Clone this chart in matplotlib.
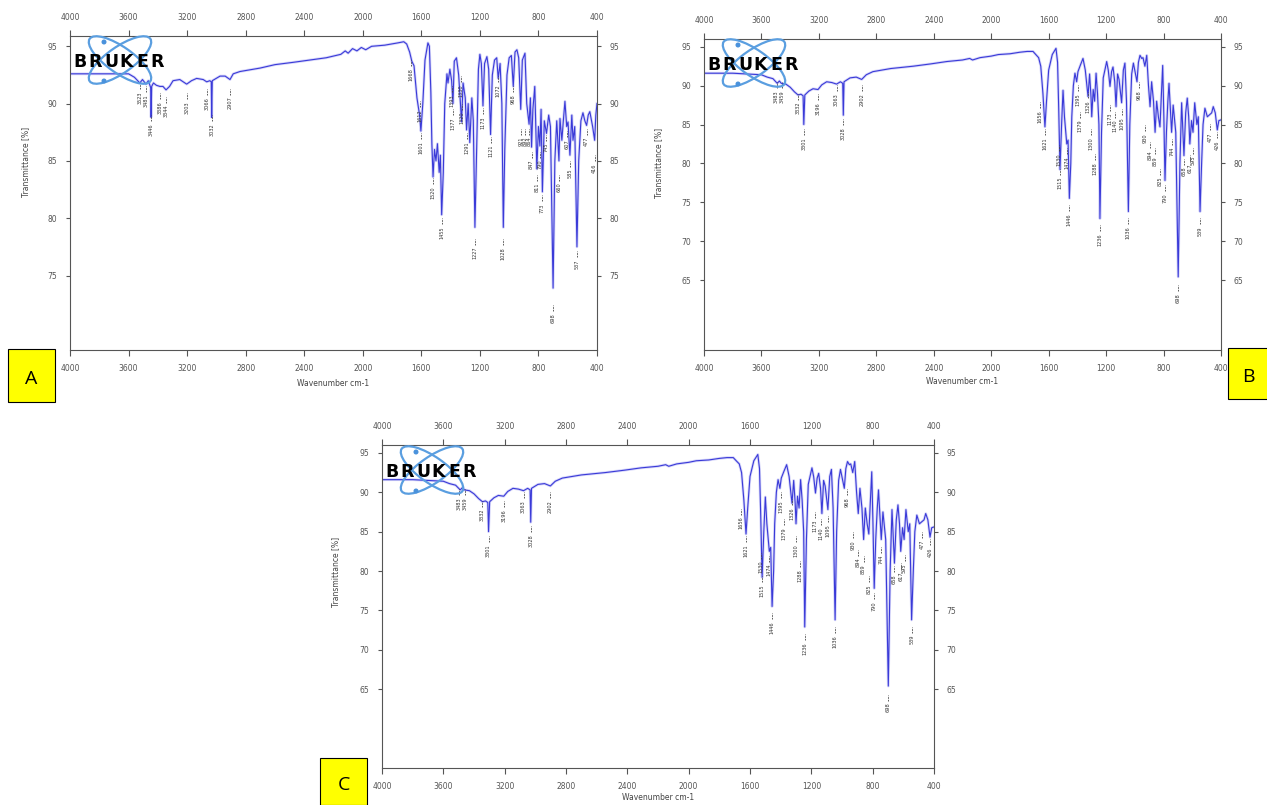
import numpy as np
import matplotlib.pyplot as plt
from matplotlib.patches import Ellipse, Rectangle, Circle

W, H = 1267, 805

# spectrum A : (wavenumber, transmittance)
spec_a = [
    (4000, 92.6), (3800, 92.6), (3600, 92.6), (3560, 92.3), (3523, 91.8), (3505, 92.1),
    (3481, 91.7), (3465, 92.0), (3449, 91.4), (3446, 88.8), (3442, 91.5), (3430, 91.8),
    (3410, 91.6), (3386, 91.5), (3365, 91.5), (3344, 91.2), (3320, 91.5), (3296, 92.0),
    (3250, 92.1), (3203, 91.7), (3170, 92.0), (3135, 92.2), (3090, 92.1), (3066, 91.9),
    (3045, 92.0), (3035, 91.9), (3032, 88.8), (3028, 92.0), (2975, 92.4), (2940, 92.4),
    (2907, 92.1), (2885, 92.6), (2839, 92.8), (2702, 93.1), (2600, 93.4), (2477, 93.6),
    (2361, 93.8), (2250, 94.0), (2150, 94.3), (2120, 94.6), (2100, 94.4), (2070, 94.8),
    (2040, 94.6), (2010, 94.9), (1980, 94.7), (1940, 95.0), (1850, 95.1), (1760, 95.3),
    (1720, 95.4), (1700, 95.2), (1680, 94.5), (1665, 93.7), (1650, 93.3), (1630, 90.5),
    (1612, 89.0), (1603, 87.6), (1590, 90.0), (1575, 93.8), (1555, 95.3), (1545, 95.0),
    (1535, 91.0), (1528, 86.5), (1520, 83.6), (1510, 86.0), (1500, 85.0), (1490, 86.5),
    (1478, 84.0), (1470, 85.5), (1461, 80.3), (1450, 84.0), (1440, 90.0), (1425, 92.6),
    (1418, 91.8), (1405, 93.0), (1393, 92.0), (1384, 90.0), (1375, 93.7), (1360, 94.0),
    (1345, 92.5), (1325, 88.4), (1315, 91.8), (1300, 90.5), (1291, 87.7), (1280, 90.0),
    (1269, 86.6), (1255, 90.5), (1245, 88.5), (1234, 79.2), (1222, 86.0), (1210, 93.0),
    (1200, 94.3), (1190, 93.5), (1179, 89.8), (1168, 93.5), (1152, 94.1), (1140, 93.0),
    (1127, 87.3), (1115, 92.5), (1100, 93.8), (1085, 94.0), (1075, 92.2), (1062, 93.5),
    (1050, 90.0), (1040, 79.2), (1030, 86.0), (1015, 92.5), (1000, 94.0), (985, 94.2),
    (972, 91.5), (960, 94.5), (947, 94.7), (935, 94.0), (921, 89.5), (910, 93.8),
    (892, 94.4), (880, 90.0), (864, 88.2), (855, 90.5), (847, 86.2), (838, 89.5),
    (825, 91.5), (811, 84.3), (800, 88.0), (790, 86.3), (782, 89.5), (773, 82.3),
    (760, 88.5), (745, 87.4), (730, 89.0), (718, 88.0), (700, 73.9), (688, 85.0),
    (675, 88.5), (660, 85.0), (653, 88.7), (640, 86.8), (630, 88.5), (619, 90.2),
    (607, 88.0), (598, 88.4), (585, 85.5), (572, 89.0), (564, 86.8), (552, 88.0),
    (537, 77.5), (525, 85.0), (510, 88.5), (496, 89.2), (483, 88.5), (471, 88.1),
    (460, 89.0), (449, 89.3), (430, 88.0), (416, 86.8), (408, 89.0), (400, 90.0),
]

# spectrum B
spec_b = [
    (4000, 91.6), (3800, 91.6), (3600, 91.4), (3560, 91.1), (3520, 90.9), (3490, 90.3),
    (3475, 90.6), (3462, 90.3), (3430, 90.2), (3400, 89.8), (3370, 89.2), (3345, 88.8),
    (3325, 88.9), (3310, 88.7), (3305, 85.0), (3298, 88.8), (3270, 89.3), (3241, 89.6),
    (3206, 89.5), (3180, 90.1), (3146, 90.5), (3110, 90.4), (3077, 90.2), (3050, 90.5),
    (3034, 90.3), (3030, 86.2), (3025, 90.5), (2983, 91.0), (2940, 91.1), (2902, 90.8),
    (2870, 91.4), (2824, 91.8), (2700, 92.2), (2544, 92.5), (2420, 92.8), (2310, 93.1),
    (2200, 93.3), (2150, 93.5), (2130, 93.3), (2078, 93.6), (2040, 93.7), (2000, 93.8),
    (1950, 94.0), (1869, 94.1), (1800, 94.3), (1750, 94.4), (1709, 94.4), (1690, 94.0),
    (1670, 93.6), (1655, 92.5), (1640, 89.0), (1626, 84.7), (1615, 88.0), (1600, 92.0),
    (1575, 94.0), (1549, 94.8), (1538, 93.0), (1530, 87.0), (1521, 79.2), (1510, 85.0),
    (1500, 89.4), (1490, 86.0), (1474, 82.5), (1465, 83.0), (1456, 75.5), (1446, 80.0),
    (1439, 86.0), (1428, 90.0), (1417, 91.6), (1405, 90.5), (1396, 91.8), (1380, 92.6),
    (1361, 93.5), (1345, 92.0), (1326, 88.6), (1315, 91.5), (1305, 88.5), (1300, 86.0),
    (1290, 89.5), (1280, 88.0), (1270, 91.6), (1260, 89.0), (1250, 85.0), (1243, 72.9),
    (1232, 84.0), (1220, 91.0), (1196, 93.1), (1185, 92.0), (1173, 89.9), (1162, 91.8),
    (1152, 92.4), (1140, 90.5), (1131, 87.3), (1120, 91.5), (1110, 90.8), (1092, 87.8),
    (1080, 92.0), (1069, 92.9), (1058, 88.0), (1045, 73.8), (1035, 85.0), (1022, 91.5),
    (1010, 92.9), (985, 90.5), (975, 93.0), (964, 93.9), (952, 93.5), (943, 93.6),
    (930, 92.5), (917, 93.9), (905, 90.0), (894, 87.3), (883, 90.5), (870, 88.0),
    (859, 84.0), (848, 88.0), (836, 86.0), (825, 84.7), (815, 89.0), (806, 92.6),
    (798, 86.0), (790, 77.8), (780, 84.0), (770, 88.0), (762, 90.3), (744, 84.0),
    (733, 87.5), (715, 84.0), (698, 65.4), (686, 80.0), (674, 87.8), (658, 81.0),
    (646, 86.5), (635, 88.4), (625, 86.0), (617, 82.5), (605, 85.5), (595, 84.0),
    (583, 87.8), (568, 85.0), (558, 86.0), (546, 73.8), (535, 80.0), (525, 85.0),
    (512, 87.1), (495, 86.0), (477, 86.3), (465, 86.5), (454, 87.3), (440, 86.5),
    (426, 84.3), (415, 85.5), (400, 85.6),
]
spec_c = list(spec_b)

# peak labels : (wavenumber, text, top of label in %T)
peaks_a = [
    (3523, "3523", 91.1), (3481, "3481", 90.8), (3446, "3446", 88.3), (3386, "3386", 90.2),
    (3344, "3344", 89.9), (3203, "3203", 90.2), (3066, "3066", 90.6), (3032, "3032", 88.3),
    (2907, "2907", 90.6), (1668, "1668", 93.1), (1612, "1612", 89.5), (1601, "1601", 86.7),
    (1520, "1520", 82.8), (1461, "1455", 79.3), (1393, "1393", 90.8), (1384, "1377", 88.8),
    (1330, "1330", 91.7), (1320, "1320", 89.3), (1291, "1291", 86.7), (1234, "1227", 77.5),
    (1179, "1173", 88.9), (1127, "1121", 86.4), (1075, "1072", 91.7), (1040, "1028", 77.5),
    (972, "968", 90.8), (921, "921", 87.1), (892, "892", 87.1), (864, "864", 87.1),
    (847, "847", 85.1), (811, "811", 83.1), (790, "790", 85.1), (773, "773", 81.3),
    (745, "745", 86.6), (700, "698", 71.7), (660, "660", 83.1), (607, "607", 86.9),
    (585, "585", 84.3), (537, "537", 76.4), (471, "477", 87.1), (416, "416", 84.8),
]

peaks_b = [
    (3495, "3483", 89.4), (3458, "3459", 89.4), (3345, "3332", 87.9), (3305, "3301", 83.4),
    (3206, "3196", 87.9), (3077, "3063", 89.0), (3030, "3028", 84.7), (2902, "2902", 89.0),
    (1660, "1656", 86.9), (1626, "1621", 83.4), (1530, "1530", 81.3), (1521, "1515", 78.3),
    (1474, "1474", 80.9), (1456, "1446", 73.6), (1396, "1395", 89.0), (1380, "1379", 85.6),
    (1326, "1326", 88.1), (1303, "1300", 83.4), (1275, "1288", 80.2), (1243, "1236", 71.0),
    (1173, "1173", 86.5), (1140, "1140", 85.6), (1092, "1095", 86.0), (1045, "1036", 71.9),
    (969, "968", 89.4), (930, "930", 83.9), (894, "894", 81.7), (859, "859", 80.9),
    (825, "825", 78.3), (790, "790", 76.2), (744, "744", 82.1), (698, "698", 63.3),
    (658, "658", 79.6), (617, "617", 80.0), (592, "595", 81.0), (546, "539", 71.9),
    (477, "477", 84.0), (426, "426", 83.0),
]
peaks_c = list(peaks_b)

xticks = [4000, 3600, 3200, 2800, 2400, 2000, 1600, 1200, 800, 400]
yticks_a = [75, 80, 85, 90, 95]
yticks_bc = [65, 70, 75, 80, 85, 90, 95]

# panel geometry in pixels: left, top, right, bottom ; y-range ; label offsets
panels = [
    dict(box=(70, 36, 597, 350), ylim=(68.5, 95.9), spec=spec_a, peaks=peaks_a,
         yticks=yticks_a, logo=(70, 34), ylab=(-0.076, 0.60), xlab=-0.092),
    dict(box=(704, 39, 1221, 350), ylim=(56.0, 96.0), spec=spec_b, peaks=peaks_b,
         yticks=yticks_bc, logo=(704, 37), ylab=(-0.080, 0.60), xlab=-0.087),
    dict(box=(382, 445, 934, 768), ylim=(55.0, 96.0), spec=spec_c, peaks=peaks_c,
         yticks=yticks_bc, logo=(382, 444), ylab=(-0.076, 0.607), xlab=-0.077),
]

tags = [("A", 8, 349, 47, 53), ("B", 1228, 348, 40, 51), ("C", 320, 758, 47, 47)]

fig = plt.figure(figsize=(W / 100, H / 100), dpi=100)
gray = "#555555"
blue = "#3a3ad8"

for p in panels:
    x0, y0, x1, y1 = p["box"]
    ax = fig.add_axes([x0 / W, 1 - y1 / H, (x1 - x0) / W, (y1 - y0) / H])
    s = np.array(p["spec"], dtype=float)
    ax.plot(s[:, 0], s[:, 1], color="#8c8cf0", lw=2.0, alpha=0.35)
    ax.plot(s[:, 0], s[:, 1], color=blue, lw=0.8)
    ax.set_xlim(4000, 400)
    ax.set_ylim(*p["ylim"])
    ax.set_xticks(xticks)
    ax.set_yticks(p["yticks"])

    ppu = (y1 - y0) / (p["ylim"][1] - p["ylim"][0])
    for w, txt, t in p["peaks"]:
        ax.plot([w, w], [t + 2 / ppu, t + 8 / ppu], color="#444444", lw=0.6,
                ls=(0, (2, 1.2)))
        ax.text(w, t, txt, rotation=90, ha="center", va="top", fontsize=3.6,
                color="#333333")

    for sp in ax.spines.values():
        sp.set_color(gray)
        sp.set_linewidth(0.8)
    ax.tick_params(axis="x", top=True, labeltop=True, direction="out", length=4,
                   pad=6, labelsize=5.5, colors=gray)
    ax.tick_params(axis="y", left=True, right=True, labelright=True, direction="out",
                   length=3, pad=6, labelsize=5.5, colors=gray)
    ax.set_ylabel("Transmittance [%]", fontsize=5.5, color="#444444")
    ax.yaxis.set_label_coords(*p["ylab"])
    ax.set_xlabel("Wavenumber cm-1", fontsize=5.5, color="#444444")
    ax.xaxis.set_label_coords(0.5, p["xlab"])

    # BRUKER logo
    lx, ly = p["logo"]
    lg = fig.add_axes([lx / W, 1 - (ly + 54) / H, 100 / W, 54 / H])
    lg.set_xlim(0, 100)
    lg.set_ylim(54, 0)
    lg.axis("off")
    for ang in (35, -35):
        lg.add_patch(Ellipse((50, 26), 74, 26, angle=ang, fill=False,
                             edgecolor="#5a9ee0", lw=1.6))
    lg.add_patch(Circle((34, 8), 1.8, color="#4a92dc"))
    lg.add_patch(Circle((34, 47), 1.8, color="#4a92dc"))
    for i, ch in enumerate("BRUKER"):
        lg.text(10 + i * 15.5, 28, ch, ha="center", va="center", fontsize=12.5,
                fontweight="heavy", color="black", family="DejaVu Sans")

for ch, x, y, w, h in tags:
    fig.add_artist(Rectangle((x / W, 1 - (y + h) / H), w / W, h / H,
                             transform=fig.transFigure, facecolor="#ffff00",
                             edgecolor="black", lw=0.8))
    fig.text((x + w / 2) / W, 1 - (y + h / 2 + 3) / H, ch, ha="center", va="center",
             fontsize=14, family="Open Sans", color="black")

fig.savefig("out.png", dpi=100)
